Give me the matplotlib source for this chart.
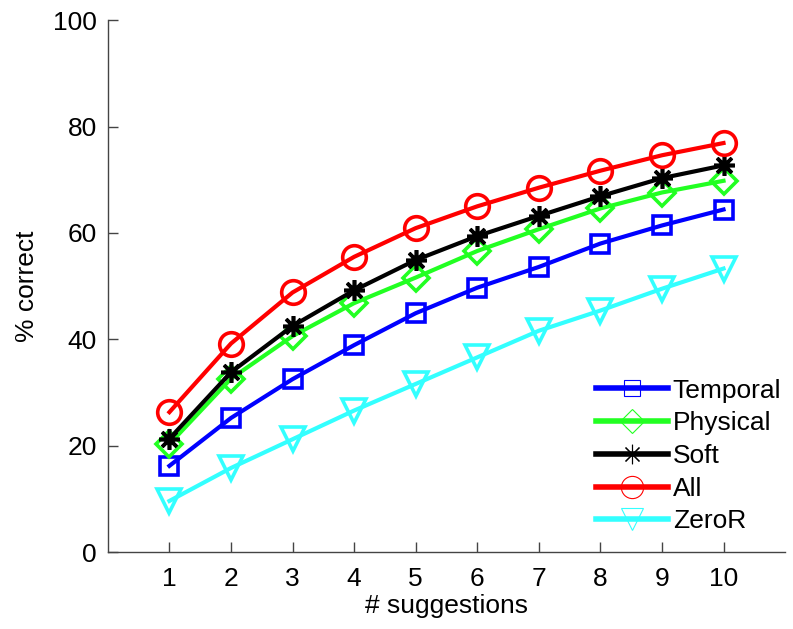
import matplotlib
matplotlib.use("Agg")
import matplotlib.pyplot as plt
from matplotlib.lines import Line2D

plt.rcParams['font.family'] = ['Liberation Sans', 'DejaVu Sans']

suggestions = [1, 2, 3, 4, 5, 6, 7, 8, 9, 10]
temporal = [16.2, 25.2, 32.5, 38.9, 44.9, 49.7, 53.6, 58.0, 61.4, 64.4]
physical = [20.3, 32.6, 40.6, 46.8, 51.6, 56.6, 60.7, 64.6, 67.6, 69.8]
soft = [21.3, 33.8, 42.5, 49.2, 54.9, 59.4, 63.2, 66.9, 70.3, 72.7]
all_feats = [26.3, 39.2, 48.8, 55.5, 60.9, 65.0, 68.5, 71.7, 74.6, 76.9]
zeror = [9.6, 15.8, 21.2, 26.6, 31.6, 36.6, 41.6, 45.4, 49.5, 53.3]

series = [
    ("Temporal", temporal, "#0000ff", "s", 13),
    ("Physical", physical, "#22ff22", "D", 13),
    ("Soft", soft, "black", (8, 2, 0), 15),
    ("All", all_feats, "#ff0000", "o", 17),
    ("ZeroR", zeror, "#33ffff", "v", 17),
]

fig = plt.figure(figsize=(7.93, 6.29), dpi=100)
ax = fig.add_axes([0.136, 0.1224, 0.854, 0.8455])

handles = []
for name, vals, col, mk, ms in series:
    ax.plot(suggestions, vals, color=col, lw=3, marker=mk, ms=ms,
            mfc='none', mec=col, mew=2.6)
    handles.append(Line2D([], [], color=col, lw=4, marker=mk, ms=ms - 1,
                          mfc='none', mec=col, mew=0.8))

ax.set_xlim(0, 11)
ax.set_ylim(0, 100)
ax.set_xticks(suggestions)
ax.set_yticks([0, 20, 40, 60, 80, 100])
ax.spines['top'].set_visible(False)
ax.spines['right'].set_visible(False)
for s in ['left', 'bottom']:
    ax.spines[s].set_color('#444444')
    ax.spines[s].set_linewidth(1.0)
ax.tick_params(direction='in', length=7, width=1, colors='#444444',
               labelcolor='black', labelsize=19)
ax.tick_params(axis='x', pad=11)
ax.tick_params(axis='y', pad=8)

ax.set_xlabel("# suggestions", fontsize=19, labelpad=2)
ax.set_ylabel("% correct", fontsize=19, labelpad=10)

ax.legend(handles=handles, labels=[s[0] for s in series], loc='lower right',
          frameon=False, fontsize=19, handlelength=2.7, handletextpad=0.2,
          labelspacing=0.33, borderaxespad=0.0, bbox_to_anchor=(1.01, 0.015))

fig.savefig("out.png", dpi=100)
